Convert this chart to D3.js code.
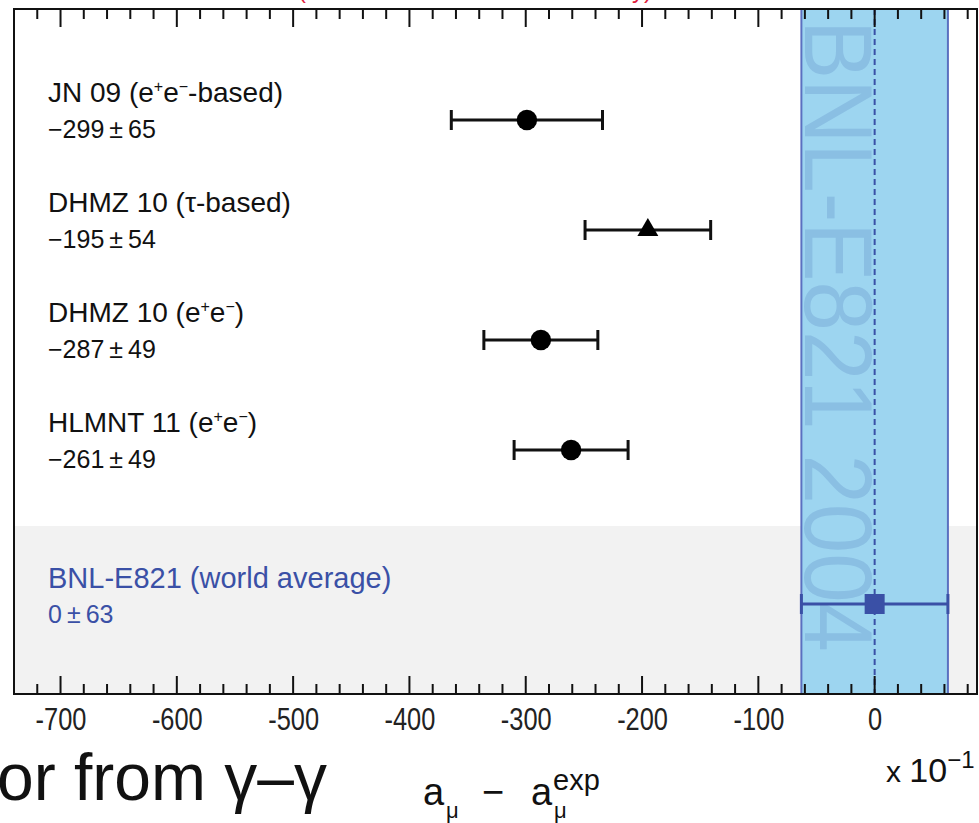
<!DOCTYPE html>
<html>
<head>
<meta charset="utf-8">
<script src="https://cdn.jsdelivr.net/npm/d3@7"></script>
<style>
  body { margin: 0; background: #fff; }
  svg text { font-family: "Liberation Sans", Arial, Helvetica, sans-serif; }
</style>
</head>
<body>
<svg id="chart" width="979" height="823"></svg>
<script>
// theory predictions minus experiment (axis reads x10^-1)
const names = ['JN 09', 'DHMZ 10', 'DHMZ 10', 'HLMNT 11']
const tags = [['(e', '+', 'e', '\u2212', '-based)'], ['(\u03c4-based)'], ['(e', '+', 'e', '\u2212', ')'], ['(e', '+', 'e', '\u2212', ')']]
const values = [-299, -195, -287, -261]
const errors = [65, 54, 49, 49]
const markers = ['circle', 'triangle', 'circle', 'circle']
const expName = 'BNL-E821 (world average)'
const expValue = 0
const expError = 63
const tickValues = [-700, -600, -500, -400, -300, -200, -100, 0]

const svg = d3.select('#chart')
const fLeft = 14, fRight = 977, fTop = 9, fBottom = 694

var x = d3.scaleLinear().domain([-740, 88]).range([fLeft, fRight])
var y = d3.scalePoint().domain(d3.range(values.length)).range([120, 450])
const grayTop = 526, expY = 604

// gray band for the experimental row
svg.append('rect')
  .attr('x', fLeft).attr('y', grayTop)
  .attr('width', fRight - fLeft).attr('height', fBottom - grayTop)
  .attr('fill', '#f2f2f2')

// experimental band
svg.append('rect')
  .attr('x', x(expValue - expError)).attr('y', fTop)
  .attr('width', x(expValue + expError) - x(expValue - expError))
  .attr('height', fBottom - fTop)
  .attr('fill', '#9dd5f0')
svg.selectAll('.bandedge')
  .data([expValue - expError, expValue + expError])
  .enter().append('line')
  .attr('x1', d => x(d)).attr('x2', d => x(d))
  .attr('y1', fTop).attr('y2', fBottom)
  .attr('stroke', '#5b70c0').attr('stroke-width', 2)

// watermark text in the band
svg.append('text')
  .attr('transform', 'translate(' + (x(expValue - expError) + 4) + ',' + 20 + ') rotate(90)')
  .attr('font-size', 96)
  .attr('textLength', 632)
  .attr('lengthAdjust', 'spacingAndGlyphs')
  .attr('fill', '#8abfe3')
  .text('BNL-E821 2004')

svg.append('line')
  .attr('x1', x(expValue)).attr('x2', x(expValue))
  .attr('y1', fTop).attr('y2', fBottom)
  .attr('stroke', '#3a50a6').attr('stroke-width', 2)
  .attr('stroke-dasharray', '6,4')

// frame + ticks
svg.append('rect')
  .attr('x', fLeft).attr('y', fTop)
  .attr('width', fRight - fLeft).attr('height', fBottom - fTop)
  .attr('fill', 'none').attr('stroke', '#111').attr('stroke-width', 2)

const minor = d3.range(-720, 89, 20)
minor.forEach(function(t) {
  let major = t % 100 == 0
  let len = major ? 18 : 10
  svg.append('line').attr('x1', x(t)).attr('x2', x(t)).attr('y1', fTop).attr('y2', fTop + len)
    .attr('stroke', '#111').attr('stroke-width', 2)
  svg.append('line').attr('x1', x(t)).attr('x2', x(t)).attr('y1', fBottom).attr('y2', fBottom - len)
    .attr('stroke', '#111').attr('stroke-width', 2)
})

var xAxis = d3.axisBottom(x).tickValues(tickValues).tickSize(0).tickPadding(0)
  .tickFormat(d => String(d))
svg.append('g')
  .attr('class', 'x-axis')
  .attr('transform', 'translate(0,' + 708 + ')')
  .call(xAxis)
  .call(g => g.select('.domain').remove())
  .call(g => g.selectAll('text')
    .attr('font-size', 31).attr('fill', '#222').attr('dy', '0.71em')
    .attr('transform', 'scale(0.82,1)'))

// theory rows
const rows = svg.selectAll('.row')
  .data(values)
  .enter().append('g')
  .attr('class', 'row')

rows.append('line')
  .attr('x1', (d, i) => x(d - errors[i])).attr('x2', (d, i) => x(d + errors[i]))
  .attr('y1', (d, i) => y(i)).attr('y2', (d, i) => y(i))
  .attr('stroke', '#111').attr('stroke-width', 3)
rows.append('line')
  .attr('x1', (d, i) => x(d - errors[i])).attr('x2', (d, i) => x(d - errors[i]))
  .attr('y1', (d, i) => y(i) - 10).attr('y2', (d, i) => y(i) + 10)
  .attr('stroke', '#111').attr('stroke-width', 3)
rows.append('line')
  .attr('x1', (d, i) => x(d + errors[i])).attr('x2', (d, i) => x(d + errors[i]))
  .attr('y1', (d, i) => y(i) - 10).attr('y2', (d, i) => y(i) + 10)
  .attr('stroke', '#111').attr('stroke-width', 3)
rows.append('path')
  .attr('transform', (d, i) => 'translate(' + x(d) + ',' + y(i) + ')')
  .attr('d', (d, i) => markers[i] == 'triangle'
    ? d3.symbol().type(d3.symbolTriangle).size(190)()
    : d3.symbol().type(d3.symbolCircle).size(330)())
  .attr('fill', '#000')

// labels
rows.each(function(d, i) {
  let g = d3.select(this)
  let t = g.append('text').attr('x', 48).attr('y', y(i) - 18)
    .attr('font-size', 28).attr('fill', '#111')
  t.append('tspan').text(names[i] + ' ')
  let shift = 0
  tags[i].forEach(function(s) {
    if (s == '+' || s == '\u2212') {
      t.append('tspan').attr('font-size', 16).attr('dy', -10).text(s)
      shift = 10
    } else {
      t.append('tspan').attr('dy', shift).text(s)
      shift = 0
    }
  })
  g.append('text').attr('x', 48).attr('y', y(i) + 18)
    .attr('font-size', 25).attr('fill', '#111')
    .text('\u2212' + Math.abs(d) + '\u2009\u00b1\u2009' + errors[i])
})

// experimental row
const blue = '#3a50a6'
svg.append('line')
  .attr('x1', x(expValue - expError)).attr('x2', x(expValue + expError))
  .attr('y1', expY).attr('y2', expY)
  .attr('stroke', blue).attr('stroke-width', 3)
svg.selectAll('.expcap')
  .data([expValue - expError, expValue + expError])
  .enter().append('line')
  .attr('x1', d => x(d)).attr('x2', d => x(d))
  .attr('y1', expY - 10).attr('y2', expY + 10)
  .attr('stroke', blue).attr('stroke-width', 3)
svg.append('rect')
  .attr('x', x(expValue) - 10).attr('y', expY - 10)
  .attr('width', 20).attr('height', 20)
  .attr('fill', blue)
svg.append('text').attr('x', 48).attr('y', expY - 16)
  .attr('font-size', 29).attr('fill', blue).text(expName)
svg.append('text').attr('x', 48).attr('y', expY + 19)
  .attr('font-size', 25).attr('fill', blue).text(expValue + '\u2009\u00b1\u2009' + expError)

// clipped red title fragments at the top edge
svg.append('text').attr('x', 298).attr('y', -2).attr('font-size', 24).attr('fill', '#e0203c').text('(')
svg.append('text').attr('x', 632).attr('y', -2).attr('font-size', 24).attr('fill', '#e0203c').text('y)')

// axis title
const tt = svg.append('g').attr('fill', '#111')
tt.append('text').attr('x', 423).attr('y', 805).attr('font-size', 38).text('a')
tt.append('text').attr('x', 446).attr('y', 818).attr('font-size', 22).text('\u03bc')
tt.append('text').attr('x', 482).attr('y', 805).attr('font-size', 38).text('\u2212')
tt.append('text').attr('x', 531).attr('y', 805).attr('font-size', 38).text('a')
tt.append('text').attr('x', 554).attr('y', 818).attr('font-size', 22).text('\u03bc')
tt.append('text').attr('x', 553).attr('y', 790).attr('font-size', 29).text('exp')

const unit = svg.append('text').attr('x', 886).attr('y', 782).attr('font-size', 34).attr('fill', '#111')
unit.append('tspan').attr('font-size', 30).text('x ')
unit.append('tspan').text('10')
unit.append('tspan').attr('font-size', 24).attr('dy', -14).text('\u22121')

svg.append('text').attr('x', -3).attr('y', 800).attr('font-size', 66).attr('fill', '#111')
  .text('or from \u03b3\u2013\u03b3')
</script>
</body>
</html>
